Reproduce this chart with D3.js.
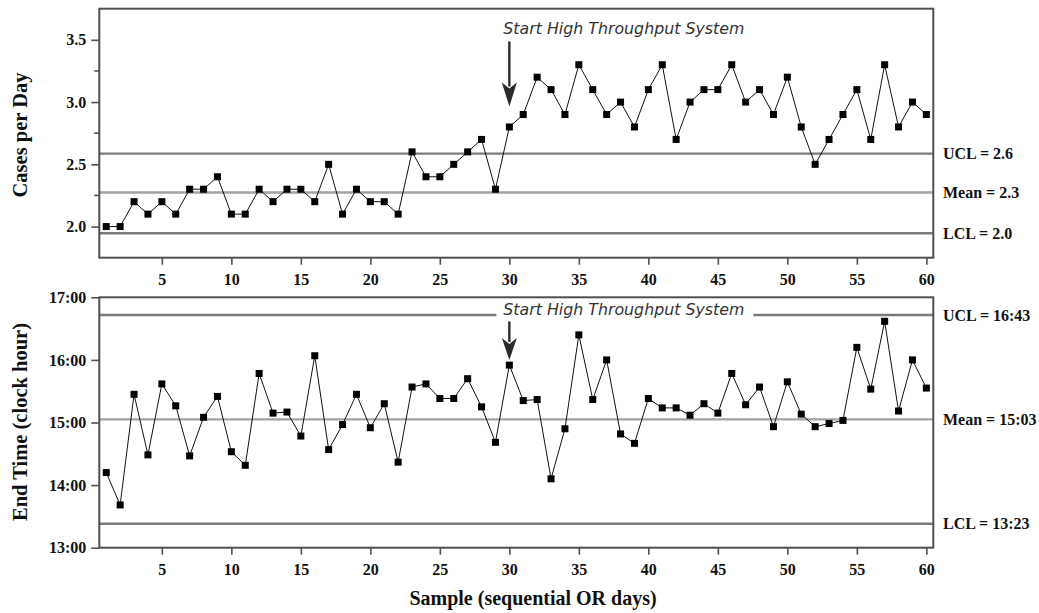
<!DOCTYPE html>
<html>
<head>
<meta charset="utf-8">
<script src="https://cdnjs.cloudflare.com/ajax/libs/d3/7.8.5/d3.min.js"></script>
<style>
body { margin: 0; background: #fff; }
.tick text { font-family: "Liberation Serif", "Times New Roman", serif; font-weight: bold; font-size: 16px; fill: #111; }
.tick line { stroke: #505050; stroke-width: 1.6; }
</style>
</head>
<body>
<script>
//Width and height
var w = 1039;
var h = 613;

//Data
var samples = d3.range(1, 61);
var casesPerDay = [2.0, 2.0, 2.2, 2.1, 2.2, 2.1, 2.3, 2.3, 2.4, 2.1,
                   2.1, 2.3, 2.2, 2.3, 2.3, 2.2, 2.5, 2.1, 2.3, 2.2,
                   2.2, 2.1, 2.6, 2.4, 2.4, 2.5, 2.6, 2.7, 2.3, 2.8,
                   2.9, 3.2, 3.1, 2.9, 3.3, 3.1, 2.9, 3.0, 2.8, 3.1,
                   3.3, 2.7, 3.0, 3.1, 3.1, 3.3, 3.0, 3.1, 2.9, 3.2,
                   2.8, 2.5, 2.7, 2.9, 3.1, 2.7, 3.3, 2.8, 3.0, 2.9];
var endTimes = ["14:12", "13:41", "15:27", "14:29", "15:37", "15:16", "14:28", "15:05", "15:25", "14:32",
                "14:19", "15:47", "15:09", "15:10", "14:47", "16:04", "14:34", "14:58", "15:27", "14:55",
                "15:18", "14:22", "15:34", "15:37", "15:23", "15:23", "15:42", "15:15", "14:41", "15:55",
                "15:21", "15:22", "14:06", "14:54", "16:24", "15:22", "16:00", "14:49", "14:40", "15:23",
                "15:14", "15:14", "15:07", "15:18", "15:09", "15:47", "15:17", "15:34", "14:56", "15:39",
                "15:08", "14:56", "14:59", "15:02", "16:12", "15:32", "16:37", "15:11", "16:00", "15:33"];

var caseLimits = [2.586, 2.274, 1.946];
var caseLimitLabels = ["UCL = 2.6", "Mean = 2.3", "LCL = 2.0"];
var timeLimits = ["16:43", "15:03", "13:23"];
var timeLimitLabels = ["UCL = 16:43", "Mean = 15:03", "LCL = 13:23"];
var limitColors = ["#7a7a7a", "#a2a2a2", "#7a7a7a"];

var caseTicks = [2.0, 2.5, 3.0, 3.5];
var caseMinorTicks = [2.25, 2.75, 3.25];
var timeTicks = ["13:00", "14:00", "15:00", "16:00", "17:00"];
var sampleTicks = [5, 10, 15, 20, 25, 30, 35, 40, 45, 50, 55, 60];
var startSample = 30;
var startLabel = "Start High Throughput System";

function parseClock(s) {
    var p = s.split(":");
    return +p[0] + (+p[1]) / 60;
}

//Layout
var left = 99.3, right = 933.3;
var topPanel = {y0: 8.7, y1: 257.7};
var botPanel = {y0: 297.3, y1: 547.7};

var svg = d3.select("body")
            .append("svg")
            .attr("width", w)
            .attr("height", h);

var x = d3.scaleLinear()
          .domain([0.5, 60.5])
          .range([left, right]);

var yCases = d3.scaleLinear()
               .domain([1.75, 3.75])
               .range([topPanel.y1, topPanel.y0]);

var yTime = d3.scaleLinear()
              .domain([13, 17])
              .range([botPanel.y1, botPanel.y0]);

var line = function(y) {
    return d3.line()
             .x(function(d) { return x(d[0]); })
             .y(function(d) { return y(d[1]); });
};

function drawPanel(p, y, values, limits, limitLabels, yAxis, title, titleY, breakUcl) {
    var g = svg.append("g");

    //x axis
    g.append("g")
     .attr("transform", "translate(0," + p.y1 + ")")
     .call(d3.axisBottom(x).tickValues(sampleTicks).tickSize(7).tickPadding(9))
     .call(function(a) { a.select(".domain").remove(); });

    //y axis
    g.append("g")
     .attr("transform", "translate(" + left + ",0)")
     .call(yAxis)
     .call(function(a) { a.select(".domain").remove(); });

    //control lines
    g.selectAll(".limit")
     .data(limits)
     .enter()
     .append("line")
     .attr("class", "limit")
     .attr("x1", left)
     .attr("x2", right)
     .attr("y1", function(d) { return y(d); })
     .attr("y2", function(d) { return y(d); })
     .attr("stroke", function(d, i) { return limitColors[i]; })
     .attr("stroke-width", 2.4);

    g.selectAll(".limitLabel")
     .data(limits)
     .enter()
     .append("text")
     .attr("x", 943)
     .attr("y", function(d) { return y(d); })
     .attr("dy", "0.35em")
     .attr("font-family", "'Liberation Serif', 'Times New Roman', serif")
     .attr("font-weight", "bold")
     .attr("font-size", 16)
     .attr("fill", "#111")
     .text(function(d, i) { return limitLabels[i]; });

    //annotation
    var tx = x(startSample) - 6;
    var ty = breakUcl ? 315 : 33.5;
    if (breakUcl) {
        g.append("rect")
         .attr("x", tx - 7)
         .attr("y", ty - 14)
         .attr("width", 257)
         .attr("height", 20)
         .attr("fill", "#fff");
    }
    g.append("text")
     .attr("x", tx)
     .attr("y", ty)
     .attr("font-family", "'DejaVu Sans', Verdana, sans-serif")
     .attr("font-style", "italic")
     .attr("font-size", 15.8)
     .attr("fill", "#333")
     .text(startLabel);

    var ax = x(startSample);
    var a0 = breakUcl ? 321.5 : 41.5;
    var a1 = breakUcl ? 360 : 106.5;
    var headLen = breakUcl ? 22 : 24;
    g.append("line")
     .attr("x1", ax).attr("x2", ax)
     .attr("y1", a0).attr("y2", a1 - headLen + 4)
     .attr("stroke", "#2a2a2a")
     .attr("stroke-width", 2.4);
    g.append("path")
     .attr("d", "M" + (ax - 7.5) + "," + (a1 - headLen) +
                "L" + ax + "," + (a1 - headLen + 6) +
                "L" + (ax + 7.5) + "," + (a1 - headLen) +
                "L" + ax + "," + a1 + "Z")
     .attr("fill", "#2a2a2a");

    //data line and markers
    var pts = samples.map(function(s, i) { return [s, values[i]]; });
    g.append("path")
     .datum(pts)
     .attr("d", line(y))
     .attr("fill", "none")
     .attr("stroke", "#111")
     .attr("stroke-width", 1);

    g.selectAll(".pt")
     .data(pts)
     .enter()
     .append("rect")
     .attr("x", function(d) { return x(d[0]) - 3.5; })
     .attr("y", function(d) { return y(d[1]) - 3.5; })
     .attr("width", 7)
     .attr("height", 7)
     .attr("fill", "#000");

    //frame
    g.append("rect")
     .attr("x", left)
     .attr("y", p.y0)
     .attr("width", right - left)
     .attr("height", p.y1 - p.y0)
     .attr("fill", "none")
     .attr("stroke", "#505050")
     .attr("stroke-width", 2);

    //y title
    g.append("text")
     .attr("transform", "translate(27," + titleY + ") rotate(-90)")
     .attr("text-anchor", "middle")
     .attr("font-family", "'Liberation Serif', 'Times New Roman', serif")
     .attr("font-weight", "bold")
     .attr("font-size", 20.5)
     .attr("fill", "#111")
     .text(title);
}

//Top panel: cases per day
var caseAxis = function(a) {
    a.call(d3.axisLeft(yCases).tickValues(caseTicks).tickFormat(d3.format(".1f")).tickSize(8).tickPadding(5));
    a.selectAll(".minor")
     .data(caseMinorTicks)
     .enter()
     .append("line")
     .attr("class", "minor")
     .attr("x1", -5)
     .attr("x2", 0)
     .attr("y1", function(d) { return yCases(d); })
     .attr("y2", function(d) { return yCases(d); })
     .attr("stroke", "#505050")
     .attr("stroke-width", 1.6);
};
drawPanel(topPanel, yCases, casesPerDay, caseLimits, caseLimitLabels, caseAxis, "Cases per Day", 135, false);

//Bottom panel: end time
var timeAxis = d3.axisLeft(yTime)
                 .tickValues(timeTicks.map(parseClock))
                 .tickFormat(function(d, i) { return timeTicks[i]; })
                 .tickSize(8)
                 .tickPadding(5);
drawPanel(botPanel, yTime, endTimes.map(parseClock), timeLimits.map(parseClock), timeLimitLabels, timeAxis, "End Time (clock hour)", 422, true);

//x title
svg.append("text")
   .attr("x", 533)
   .attr("y", 605)
   .attr("text-anchor", "middle")
   .attr("font-family", "'Liberation Serif', 'Times New Roman', serif")
   .attr("font-weight", "bold")
   .attr("font-size", 20)
   .attr("fill", "#111")
   .text("Sample (sequential OR days)");
</script>
</body>
</html>
